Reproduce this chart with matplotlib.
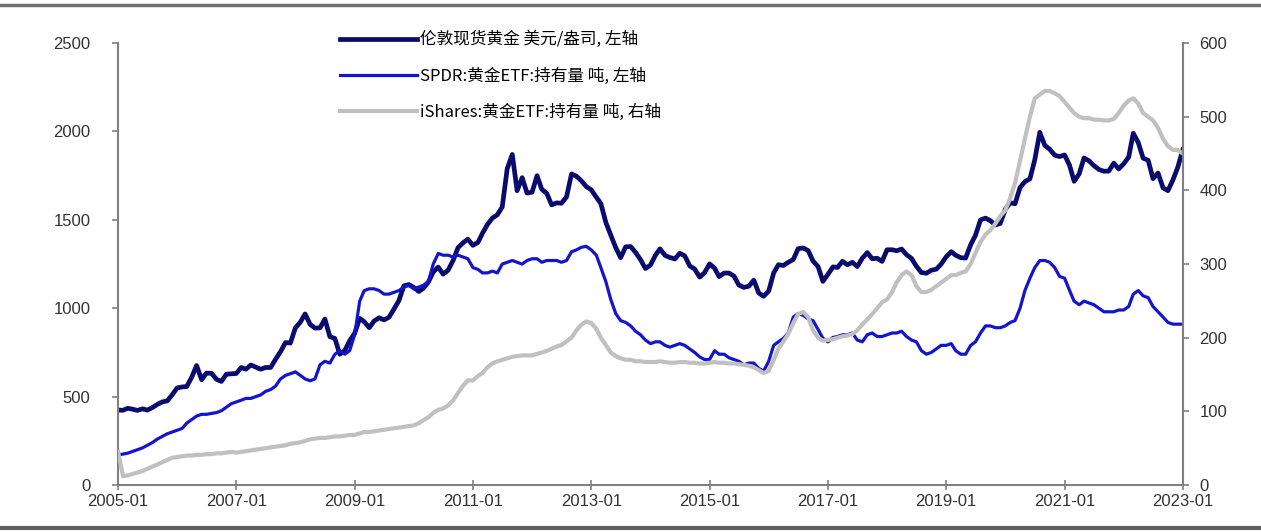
import numpy as np
import pandas as pd
import matplotlib
matplotlib.use("Agg")
import matplotlib.pyplot as plt
from matplotlib.lines import Line2D

# =============================================================================
# Data (monthly, 2005-01 .. 2023-01)
# =============================================================================

dates = pd.date_range("2005-01-01", "2023-01-01", freq="MS")

# London spot gold, USD/oz (left axis)
gold_price = [
    424, 423, 434, 429, 422, 431, 424, 438, 456, 470, 476, 510,
    549, 555, 557, 610, 676, 596, 633, 632, 598, 586, 627, 629,
    631, 665, 655, 679, 667, 655, 665, 665, 712, 754, 806, 803,
    889, 922, 968, 909, 888, 889, 939, 839, 829, 740, 760, 816,
    858, 943, 924, 890, 928, 946, 934, 949, 996, 1043, 1127, 1134,
    1118, 1095, 1113, 1148, 1205, 1233, 1193, 1215, 1271, 1343, 1370, 1391,
    1356, 1372, 1424, 1474, 1510, 1529, 1573, 1790, 1870, 1665, 1739, 1652,
    1656, 1750, 1673, 1650, 1585, 1596, 1594, 1630, 1760, 1747, 1721, 1688,
    1670, 1628, 1592, 1485, 1414, 1343, 1286, 1347, 1349, 1316, 1275, 1225,
    1244, 1300, 1336, 1299, 1287, 1279, 1311, 1296, 1239, 1222, 1176, 1201,
    1251, 1227, 1179, 1199, 1199, 1182, 1131, 1118, 1125, 1159, 1086, 1068,
    1097, 1200, 1246, 1242, 1260, 1276, 1337, 1341, 1326, 1267, 1236, 1152,
    1192, 1234, 1231, 1266, 1246, 1260, 1236, 1283, 1315, 1280, 1283, 1265,
    1331, 1331, 1325, 1335, 1303, 1282, 1238, 1202, 1198, 1215, 1221, 1250,
    1291, 1320, 1300, 1286, 1284, 1359, 1413, 1500, 1510, 1495, 1471, 1480,
    1560, 1597, 1591, 1683, 1716, 1732, 1840, 1995, 1921, 1900, 1866, 1858,
    1867, 1808, 1718, 1760, 1850, 1834, 1807, 1785, 1775, 1776, 1821, 1788,
    1817, 1856, 1990, 1937, 1849, 1837, 1733, 1765, 1681, 1665, 1726, 1798,
    1898,
]

# SPDR gold ETF holdings, tonnes (left axis)
spdr_hold = [
    170, 175, 180, 190, 200, 210, 225, 240, 260, 275, 290, 300,
    310, 320, 350, 370, 390, 400, 400, 405, 410, 420, 440, 460,
    470, 480, 490, 490, 500, 510, 530, 540, 560, 600, 620, 630,
    640, 620, 600, 590, 600, 680, 700, 690, 740, 760, 740, 760,
    850, 1040, 1100, 1110, 1110, 1100, 1080, 1080, 1090, 1100, 1120, 1130,
    1110, 1120, 1130, 1150, 1250, 1310, 1300, 1300, 1290, 1300, 1290, 1280,
    1230, 1220, 1200, 1200, 1210, 1200, 1250, 1260, 1270, 1260, 1250, 1270,
    1280, 1280, 1260, 1270, 1270, 1270, 1260, 1270, 1320, 1330, 1345, 1350,
    1330, 1300, 1230, 1150, 1050, 970, 930, 920, 900, 870, 850, 820,
    800, 810, 810, 790, 780, 790, 800, 790, 770, 750, 725, 710,
    710, 760, 740, 740, 720, 710, 700, 680, 690, 690, 660, 645,
    700, 790, 810, 830, 860, 950, 970, 960, 940, 930, 880, 830,
    810, 835, 840, 850, 850, 860, 820, 810, 850, 860, 840, 840,
    850, 860, 860, 870, 840, 820, 810, 760, 740, 750, 770, 790,
    790, 800, 760, 740, 740, 790, 810, 860, 900, 900, 890, 890,
    900, 920, 930, 1000, 1100, 1170, 1230, 1270, 1270, 1260, 1230, 1180,
    1170, 1100, 1040, 1020, 1040, 1030, 1020, 1000, 980, 980, 980, 990,
    990, 1010, 1080, 1100, 1070, 1060, 1010, 980, 950, 920, 910, 910,
    910,
]

# iShares gold ETF holdings, tonnes (right axis)
ishares_hold = [
    45, 12, 13, 15, 17, 19, 22, 25, 28, 31, 34, 37,
    38, 39, 40, 40, 41, 41, 42, 42, 43, 43, 44, 45,
    44, 45, 46, 47, 48, 49, 50, 51, 52, 53, 54, 56,
    57, 58, 60, 62, 63, 64, 64, 65, 66, 66, 67, 68,
    68, 70, 72, 72, 73, 74, 75, 76, 77, 78, 79, 80,
    81, 84, 88, 92, 98, 102, 104, 108, 115, 125, 135, 142,
    142, 148, 152, 160, 165, 168, 170, 172, 174, 175, 176, 176,
    176, 178, 180, 182, 185, 188, 190, 195, 200, 210, 218, 222,
    220, 212, 200, 190, 180, 175, 172, 170, 170, 168, 168, 167,
    167, 167, 168, 167, 166, 166, 167, 167, 166, 166, 165, 165,
    166, 167, 166, 166, 165, 165, 164, 163, 162, 160, 156, 152,
    155, 170, 185, 195, 205, 220, 232, 235, 228, 210, 200, 196,
    197, 198, 200, 202, 203, 205, 210, 218, 225, 232, 240, 248,
    252, 262, 275, 285, 290, 285, 270, 262, 262, 265, 270, 275,
    280, 285, 285, 288, 290, 300, 315, 330, 340, 346, 355, 365,
    373, 390, 410, 440, 470, 500, 525, 530, 535, 535, 532, 528,
    520, 512, 505, 500, 498, 498, 496, 496, 495, 495, 497, 505,
    515, 522, 525, 518, 505, 500, 495, 485, 470, 460, 455, 455,
    450,
]

labels = [
    "伦敦现货黄金 美元/盎司, 左轴",
    "SPDR:黄金ETF:持有量 吨, 左轴",
    "iShares:黄金ETF:持有量 吨, 右轴",
]

x_ticks = pd.date_range("2005-01-01", "2023-01-01", freq="24MS")
left_ticks = [0, 500, 1000, 1500, 2000, 2500]
right_ticks = [0, 100, 200, 300, 400, 500, 600]

# =============================================================================
# Plot
# =============================================================================

plt.rcParams["font.family"] = ["Liberation Sans", "Noto Sans CJK SC", "DejaVu Sans"]

fig = plt.figure(figsize=(12.61, 5.32), dpi=100)
ax = fig.add_axes([0.0936, 0.0883, 0.8444, 0.8307])
ax2 = ax.twinx()

l1, = ax.plot(dates, gold_price, color="#0b0b6e", lw=3.4, label=labels[0], zorder=2)
l2, = ax.plot(dates, spdr_hold, color="#1414cc", lw=2.3, label=labels[1], zorder=3)
l3, = ax2.plot(dates, ishares_hold, color="#c0c0c0", lw=3.0, label=labels[2])

# gray line drawn over the left-axis lines
ax.set_zorder(1)
ax2.set_zorder(2)
ax.patch.set_visible(False)
ax2.patch.set_visible(False)

ax.set_xlim(dates[0], dates[-1])
ax.set_ylim(0, 2500)
ax2.set_ylim(0, 600)
ax.set_xticks(x_ticks)
ax.set_xticklabels([d.strftime("%Y-%m") for d in x_ticks])
ax.set_yticks(left_ticks)
ax2.set_yticks(right_ticks)

spine_c = "#808080"
for a in (ax, ax2):
    for s in a.spines.values():
        s.set_color(spine_c)
        s.set_linewidth(1.5)
    a.spines["top"].set_visible(False)
ax.spines["right"].set_visible(False)
ax2.spines["left"].set_visible(False)
ax2.spines["bottom"].set_visible(False)

ax.tick_params(axis="x", direction="inout", length=7, width=1.2, color=spine_c,
               labelsize=12, labelcolor="#333333", pad=3)
ax.tick_params(axis="y", direction="out", length=4, width=1.2, color=spine_c,
               labelsize=12, labelcolor="#333333", pad=16)
ax2.tick_params(axis="y", direction="out", length=4, width=1.2, color=spine_c,
                labelsize=12, labelcolor="#333333", pad=8)

fig.legend(handles=[l1, l2, l3], loc="upper left", bbox_to_anchor=(0.258, 0.97),
           frameon=False, handlelength=4.6, labelspacing=1.15, handletextpad=0.2,
           prop={"family": ["Noto Sans CJK SC", "DejaVu Sans"], "size": 12})

# top and bottom rules of the report figure
fig.add_artist(Line2D([0, 1], [0.991, 0.991], color="#707070", lw=2.5))
fig.add_artist(Line2D([0, 1], [0.008, 0.008], color="#606060", lw=3))

fig.savefig("out.png", dpi=100)
